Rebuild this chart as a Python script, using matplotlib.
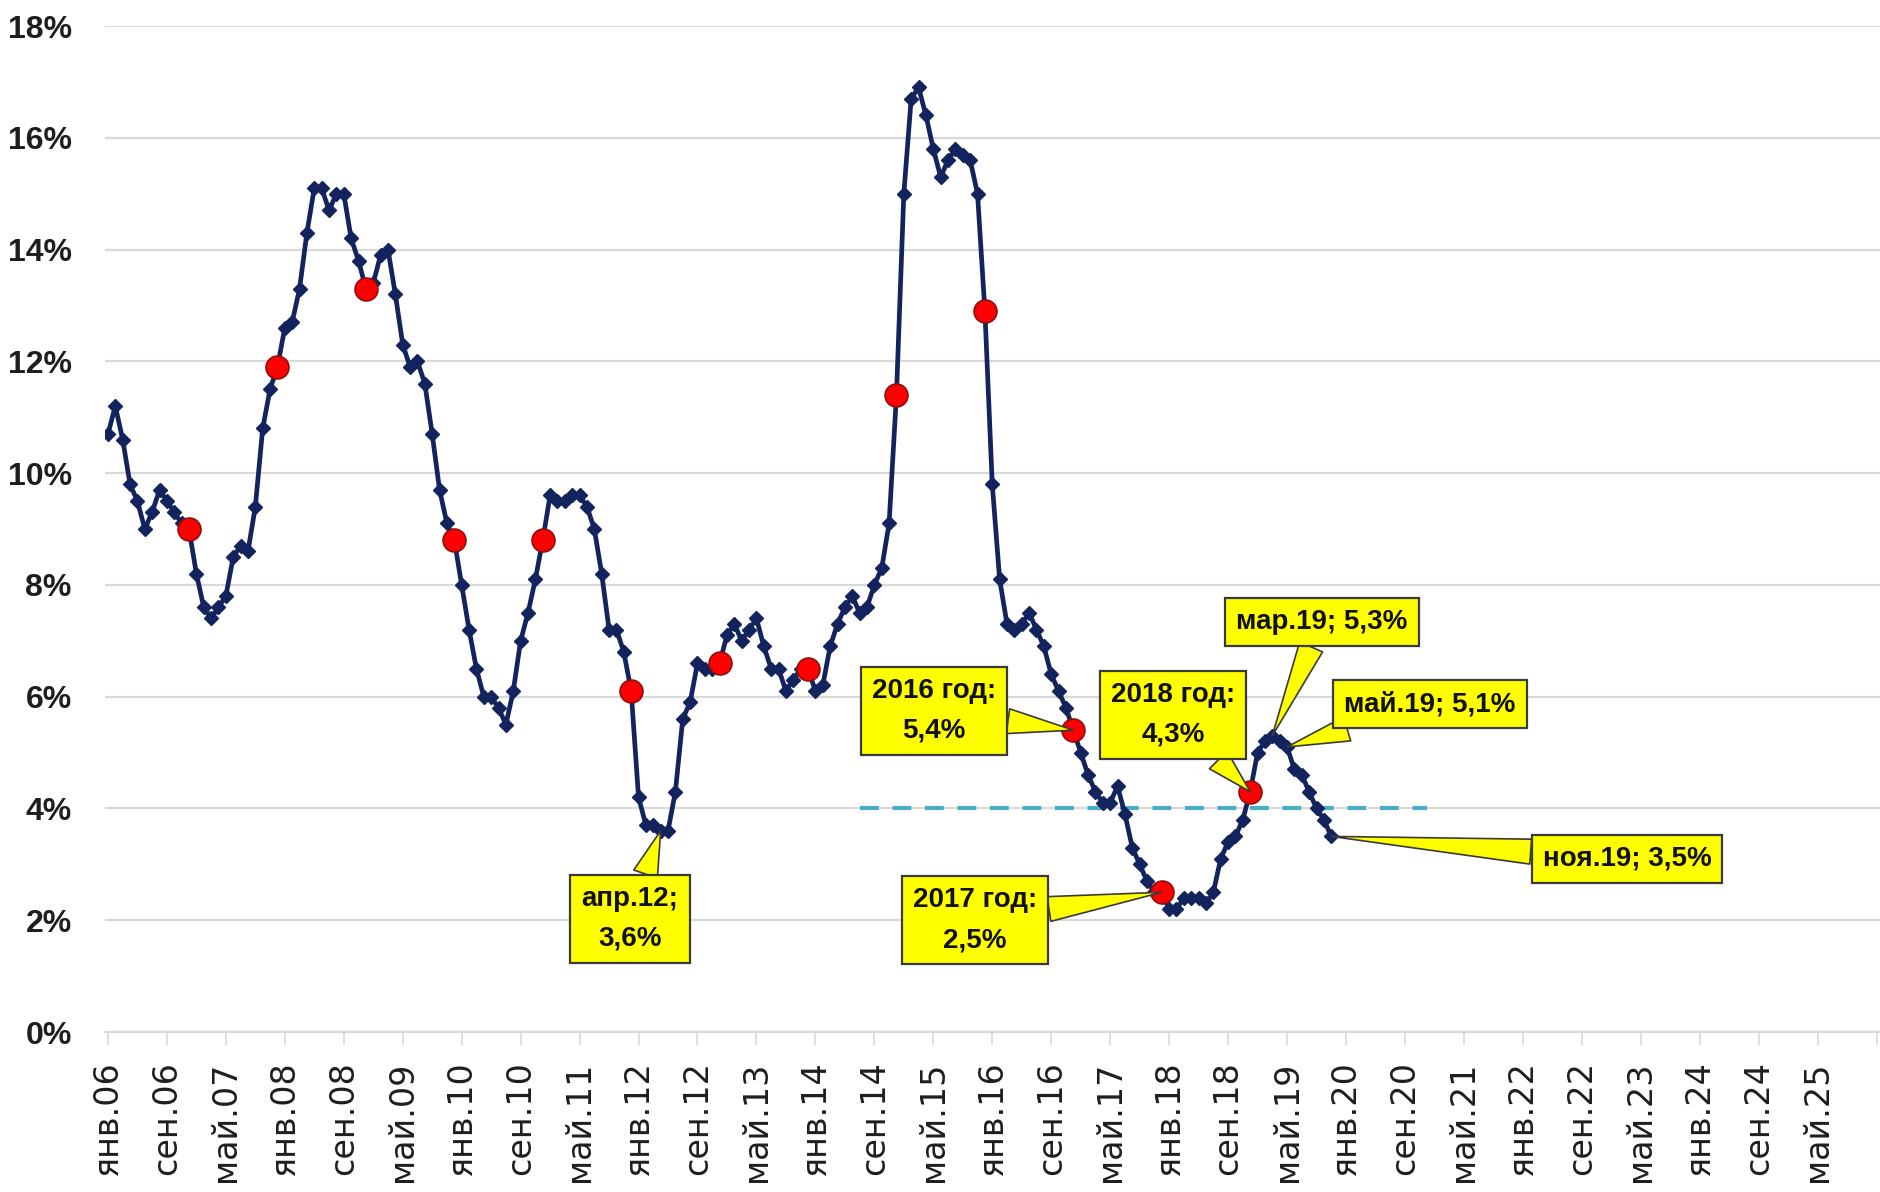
import numpy as np
import matplotlib.pyplot as plt

# инфляция, % г/г, янв.06 - ноя.19
inflation = [
    10.7, 11.2, 10.6, 9.8, 9.5, 9.0, 9.3, 9.7, 9.5, 9.3, 9.1, 9.0,        # 2006
    8.2, 7.6, 7.4, 7.6, 7.8, 8.5, 8.7, 8.6, 9.4, 10.8, 11.5, 11.9,        # 2007
    12.6, 12.7, 13.3, 14.3, 15.1, 15.1, 14.7, 15.0, 15.0, 14.2, 13.8, 13.3,  # 2008
    13.4, 13.9, 14.0, 13.2, 12.3, 11.9, 12.0, 11.6, 10.7, 9.7, 9.1, 8.8,  # 2009
    8.0, 7.2, 6.5, 6.0, 6.0, 5.8, 5.5, 6.1, 7.0, 7.5, 8.1, 8.8,           # 2010
    9.6, 9.5, 9.5, 9.6, 9.6, 9.4, 9.0, 8.2, 7.2, 7.2, 6.8, 6.1,           # 2011
    4.2, 3.7, 3.7, 3.6, 3.6, 4.3, 5.6, 5.9, 6.6, 6.5, 6.5, 6.6,           # 2012
    7.1, 7.3, 7.0, 7.2, 7.4, 6.9, 6.5, 6.5, 6.1, 6.3, 6.5, 6.5,           # 2013
    6.1, 6.2, 6.9, 7.3, 7.6, 7.8, 7.5, 7.6, 8.0, 8.3, 9.1, 11.4,          # 2014
    15.0, 16.7, 16.9, 16.4, 15.8, 15.3, 15.6, 15.8, 15.7, 15.6, 15.0, 12.9,  # 2015
    9.8, 8.1, 7.3, 7.2, 7.3, 7.5, 7.2, 6.9, 6.4, 6.1, 5.8, 5.4,           # 2016
    5.0, 4.6, 4.3, 4.1, 4.1, 4.4, 3.9, 3.3, 3.0, 2.7, 2.5, 2.5,           # 2017
    2.2, 2.2, 2.4, 2.4, 2.4, 2.3, 2.5, 3.1, 3.4, 3.5, 3.8, 4.3,           # 2018
    5.0, 5.2, 5.3, 5.2, 5.1, 4.7, 4.6, 4.3, 4.0, 3.8, 3.5,                # 2019
]

# итоги года (декабрь к декабрю)
years = [2006, 2007, 2008, 2009, 2010, 2011, 2012, 2013, 2014, 2015, 2016, 2017, 2018]
annual = [9.0, 11.9, 13.3, 8.8, 8.8, 6.1, 6.6, 6.5, 11.4, 12.9, 5.4, 2.5, 4.3]

# цель ЦБ 4%: июл.14 - дек.20 (номера месяцев от янв.06)
target = 4.0
target_from, target_to = 102, 179

tick_labels = ['янв.06', 'сен.06', 'май.07', 'янв.08', 'сен.08', 'май.09', 'янв.10',
               'сен.10', 'май.11', 'янв.12', 'сен.12', 'май.13', 'янв.14', 'сен.14',
               'май.15', 'янв.16', 'сен.16', 'май.17', 'янв.18', 'сен.18', 'май.19',
               'янв.20', 'сен.20', 'май.21', 'янв.22', 'сен.22', 'май.23', 'янв.24',
               'сен.24', 'май.25']
tick_step = 8

# подписи-выноски: месяц (номер), текст
callout_month = [75, 131, 143, 155, 158, 160, 166]
callout_text = ['апр.12;\n3,6%', '2016 год:\n5,4%', '2017 год:\n2,5%', '2018 год:\n4,3%',
                'мар.19; 5,3%', 'май.19; 5,1%', 'ноя.19; 3,5%']
# центры рамок в пикселях (от верхнего левого угла)
callout_pos = [(630, 919), (934, 711), (975, 920), (1173, 715),
               (1322, 622), (1430, 704), (1627, 859)]

W, H = 1881, 1192
fig = plt.figure(figsize=(W / 100, H / 100), dpi=100)
ax = fig.add_axes([105 / W, (H - 1032) / H, 1 - 105 / W, (1032 - 26) / H])

x = np.arange(len(inflation))
ax.plot(x, inflation, color='#13235e', lw=3.4, marker='D', ms=7.5,
        mec='#13235e', mfc='#13235e', zorder=3)

dec_idx = [(y - 2006) * 12 + 11 for y in years]
ax.plot(dec_idx, annual, ls='none', marker='o', ms=16.5, mfc='#ff0000',
        mec='#8c1010', mew=1.2, zorder=4)

ax.plot([target_from, target_to], [target, target], color='#4bacc6', lw=3,
        dashes=(4.5, 3.3), zorder=2)

ax.set_xlim(-0.4, 240.6)
ax.set_ylim(0, 18)
ax.set_yticks(np.arange(0, 19, 2))
ax.set_yticklabels([f'{v}%' for v in range(0, 19, 2)])
ax.set_xticks(np.arange(0, 241, tick_step))
ax.set_xticklabels(tick_labels + [''], rotation=90)

ax.grid(axis='y', color='#d9d9d9', lw=1.6)
ax.set_axisbelow(True)
for s in ['top', 'right', 'left']:
    ax.spines[s].set_visible(False)
ax.spines['bottom'].set_color('#d9d9d9')
ax.spines['bottom'].set_linewidth(1.6)
ax.tick_params(axis='y', length=0, pad=24, labelsize=23, labelcolor='#1e1e1e')
ax.tick_params(axis='x', length=9, width=1.2, color='#d9d9d9', pad=12,
               labelsize=24, labelcolor='#1e1e1e')
for t in ax.get_yticklabels():
    t.set_family('Liberation Sans')
    t.set_weight('bold')
for t in ax.get_xticklabels():
    t.set_family('DejaVu Sans')

for m, txt, (px, py) in zip(callout_month, callout_text, callout_pos):
    ax.annotate(txt, xy=(m, inflation[m]), xytext=(px, H - py),
                textcoords='figure pixels', ha='center', va='center',
                fontsize=20, fontweight='bold', linespacing=1.7,
                family='Liberation Sans', color='#111111',
                bbox=dict(boxstyle='square,pad=0.4', fc='#ffff00', ec='#3a3a3a', lw=1.6),
                arrowprops=dict(arrowstyle='wedge,tail_width=0.9', fc='#ffff00',
                                ec='#3a3a3a', lw=1.2, shrinkA=0, shrinkB=0),
                zorder=5)

fig.savefig('out.png', dpi=100)
